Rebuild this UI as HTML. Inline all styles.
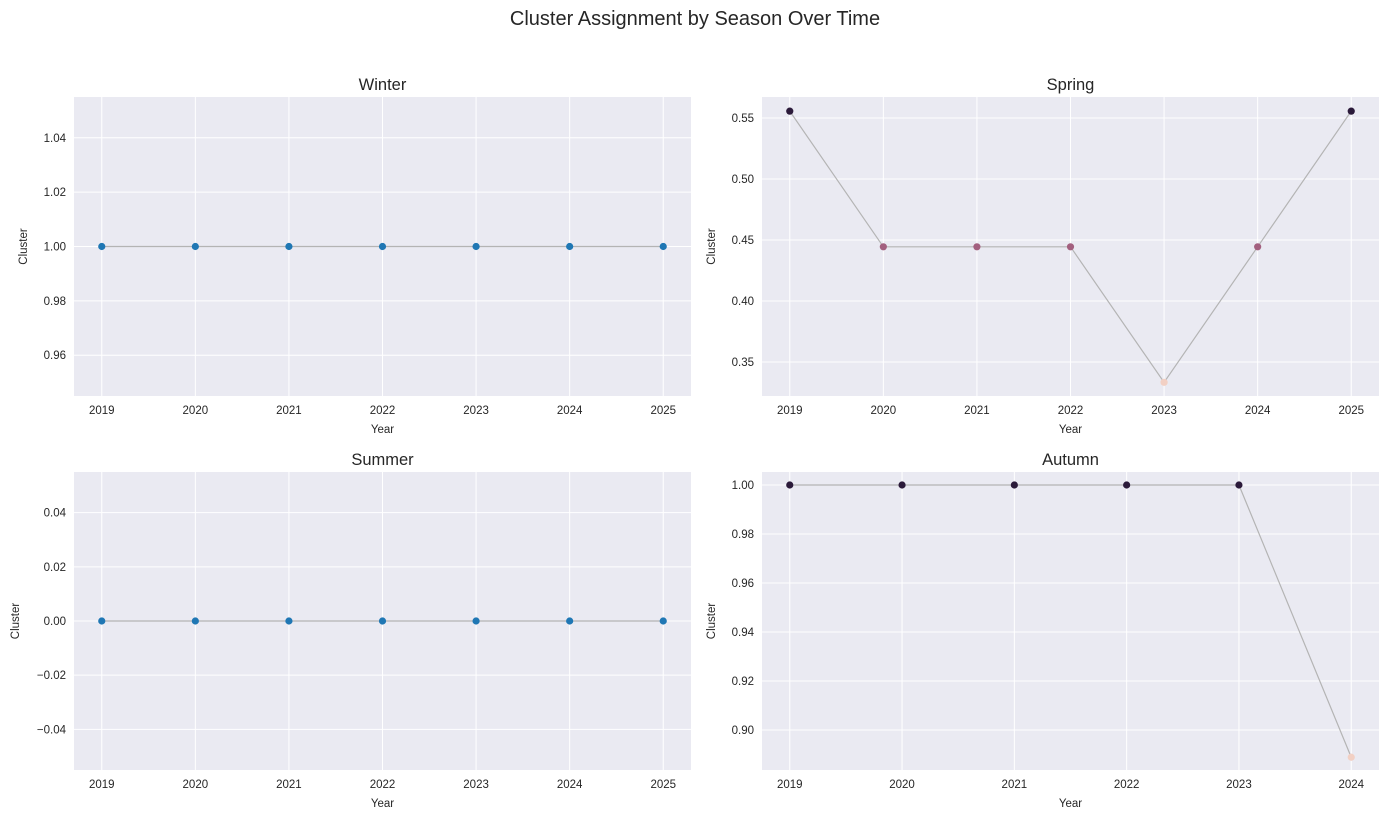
<!DOCTYPE html>
<html><head><meta charset="utf-8"><style>
body{margin:0;background:#fff;font-family:"Liberation Sans",sans-serif}
svg text{font-family:"Liberation Sans",sans-serif;fill:#262626}
</style></head><body>
<svg id="c" width="1390" height="820" viewBox="0 0 1390 820" xmlns="http://www.w3.org/2000/svg">
<text x="695" y="25" font-size="20" text-anchor="middle">Cluster Assignment by Season Over Time</text>
</svg>
<script>
const winterYears=[2019,2020,2021,2022,2023,2024,2025];
const winterValues=[1,1,1,1,1,1,1];
const winterYTicks=[0.96,0.98,1.00,1.02,1.04];
const springYears=[2019,2020,2021,2022,2023,2024,2025];
const springValues=[0.5556,0.4444,0.4444,0.4444,0.3333,0.4444,0.5556];
const springYTicks=[0.35,0.40,0.45,0.50,0.55];
const summerYears=[2019,2020,2021,2022,2023,2024,2025];
const summerValues=[0,0,0,0,0,0,0];
const summerYTicks=[-0.04,-0.02,0.00,0.02,0.04];
const autumnYears=[2019,2020,2021,2022,2023,2024];
const autumnValues=[1,1,1,1,1,0.8889];
const autumnYTicks=[0.90,0.92,0.94,0.96,0.98,1.00];

const NS="http://www.w3.org/2000/svg";
const svg=document.getElementById('c');
function mk(tag,attrs,parent){const e=document.createElementNS(NS,tag);for(const k in attrs)e.setAttribute(k,attrs[k]);(parent||svg).appendChild(e);return e;}

function panel(name,title,box,years,vals,yticks,ymin,ymax,dec,colorFn,labelX){
  const g=mk('g',{});
  
  
  const [x0,y0,x1,y1]=box;
  const bg=mk('rect',{x:x0,y:y0,width:x1-x0,height:y1-y0,fill:'#eaeaf2'},g);
  
  
  const pad=(x1-x0)*0.045;
  const xs=v=>x0+pad+(v-years[0])/(years[years.length-1]-years[0])*(x1-x0-2*pad);
  const ys=v=>y1-(v-ymin)/(ymax-ymin)*(y1-y0);
  years.forEach(yr=>{
    const l=mk('line',{x1:xs(yr),x2:xs(yr),y1:y0,y2:y1,stroke:'#fff','stroke-width':1},g);
    
    
    const t=mk('text',{x:xs(yr),y:y1+18,'font-size':11.5,'text-anchor':'middle'},g);
    
    
    t.textContent=yr;
  });
  yticks.forEach(v=>{
    const l=mk('line',{x1:x0,x2:x1,y1:ys(v),y2:ys(v),stroke:'#fff','stroke-width':1},g);
    
    
    const t=mk('text',{x:x0-8,y:ys(v)+4,'font-size':11.5,'text-anchor':'end'},g);
    
    
    t.textContent=v.toFixed(dec).replace('-','\u2212');
  });
  const pts=years.map((yr,i)=>xs(yr)+','+ys(vals[i])).join(' ');
  const pl=mk('polyline',{points:pts,fill:'none',stroke:'#b4b4b4','stroke-width':1.2},g);
  
  
  years.forEach((yr,i)=>{
    const c=mk('circle',{cx:xs(yr),cy:ys(vals[i]),r:3.6,fill:colorFn(vals[i])},g);
    
    
  });
  const tt=mk('text',{x:(x0+x1)/2,y:y0-7,'font-size':16.5,'text-anchor':'middle'},g);
  
  
  tt.textContent=title;
  const xl=mk('text',{x:(x0+x1)/2,y:y1+37,'font-size':11.5,'text-anchor':'middle'},g);
  
  
  xl.textContent='Year';
  const yl=mk('text',{x:labelX,y:(y0+y1)/2,'font-size':11.5,'text-anchor':'middle',transform:`rotate(-90 ${labelX} ${(y0+y1)/2})`},g);
  
  
  yl.textContent='Cluster';
}
const blue=()=>'#1f77b4';
function rocket(vals){const mn=Math.min(...vals),mx=Math.max(...vals);
  return v=>{if(mx===mn)return '#2b1a3a';const t=(v-mn)/(mx-mn);
    if(t>0.75)return '#2b1a3a';if(t>0.25)return '#a3607f';return '#f2d0c4';};}
panel('winter','Winter',[74,97,691,396],winterYears,winterValues,winterYTicks,0.945,1.055,2,blue,27);
panel('spring','Spring',[762,97,1379,396],springYears,springValues,springYTicks,0.3221,0.5672,2,rocket(springValues),715);
panel('summer','Summer',[74,472,691,770],summerYears,summerValues,summerYTicks,-0.055,0.055,2,blue,19);
panel('autumn','Autumn',[762,472,1379,770],autumnYears,autumnValues,autumnYTicks,0.8837,1.0053,2,rocket(autumnValues),715);
</script>
</body></html>
